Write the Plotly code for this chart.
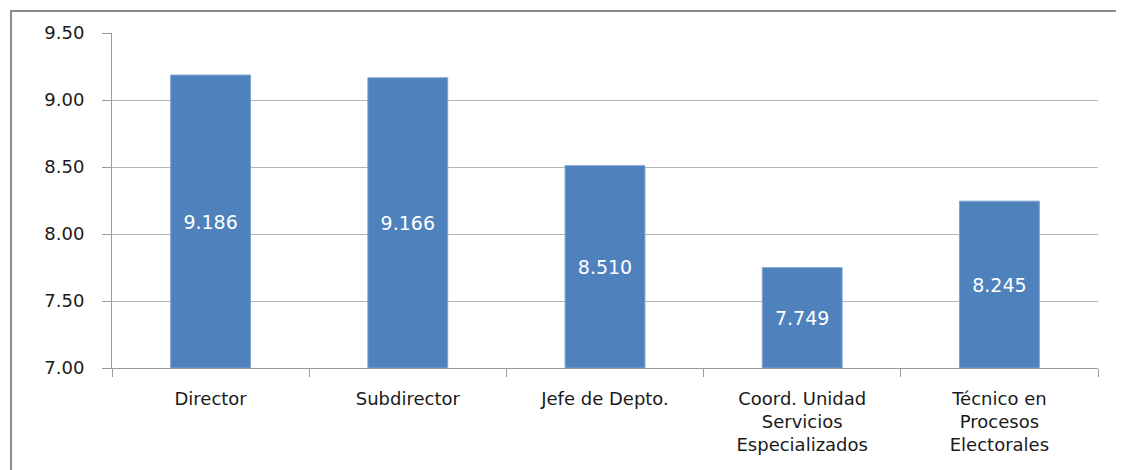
import plotly.graph_objects as go

categories = ["Director", "Subdirector", "Jefe de Depto.",
              "Coord. Unidad<br>Servicios<br>Especializados",
              "Técnico en<br>Procesos<br>Electorales"]
values = [9.186, 9.166, 8.510, 7.749, 8.245]
labels = ["9.186", "9.166", "8.510", "7.749", "8.245"]

axis_min = 7.0

# bars start at the axis floor so the centred labels land inside the visible part
fig = go.Figure(go.Bar(
    x=categories,
    y=[v - axis_min for v in values],
    base=axis_min,
    text=labels,
    textposition="inside",
    insidetextanchor="middle",
    textangle=0,
    textfont=dict(family="DejaVu Sans", size=19, color="white"),
    marker=dict(color="#4F81BD", line=dict(color="#7FA3D3", width=1)),
    width=0.405,
    hoverinfo="skip",
))

fig.update_layout(
    width=1124, height=470,
    margin=dict(l=104, r=34, t=25, b=110),
    paper_bgcolor="white", plot_bgcolor="white",
    showlegend=False,
    font=dict(family="DejaVu Sans", size=18, color="#1A1A1A"),
    uniformtext=dict(mode="show", minsize=10),
)

fig.update_yaxes(
    range=[7, 9.5], dtick=0.5, tickformat=".2f",
    showgrid=True, gridcolor="#B4B4B4", gridwidth=1,
    showline=True, linecolor="#9A9A9A", linewidth=1,
    ticks="outside", ticklen=9, tickcolor="#9A9A9A",
    ticklabelstandoff=14,
    zeroline=False,
)
fig.update_xaxes(
    tickson="boundaries", ticks="outside", ticklen=8, tickcolor="#9A9A9A",
    showline=True, linecolor="#9A9A9A", linewidth=1,
    showgrid=False,
    ticklabelstandoff=14,
)

# outer chart frame
fig.add_shape(type="rect", xref="paper", yref="paper",
              x0=(3 - 104) / 986, x1=(1140 - 104) / 986,
              y0=-0.5, y1=(360 - 3) / 335,
              line=dict(color="#8C8C8C", width=2), layer="below")

fig.write_html("out.html")
